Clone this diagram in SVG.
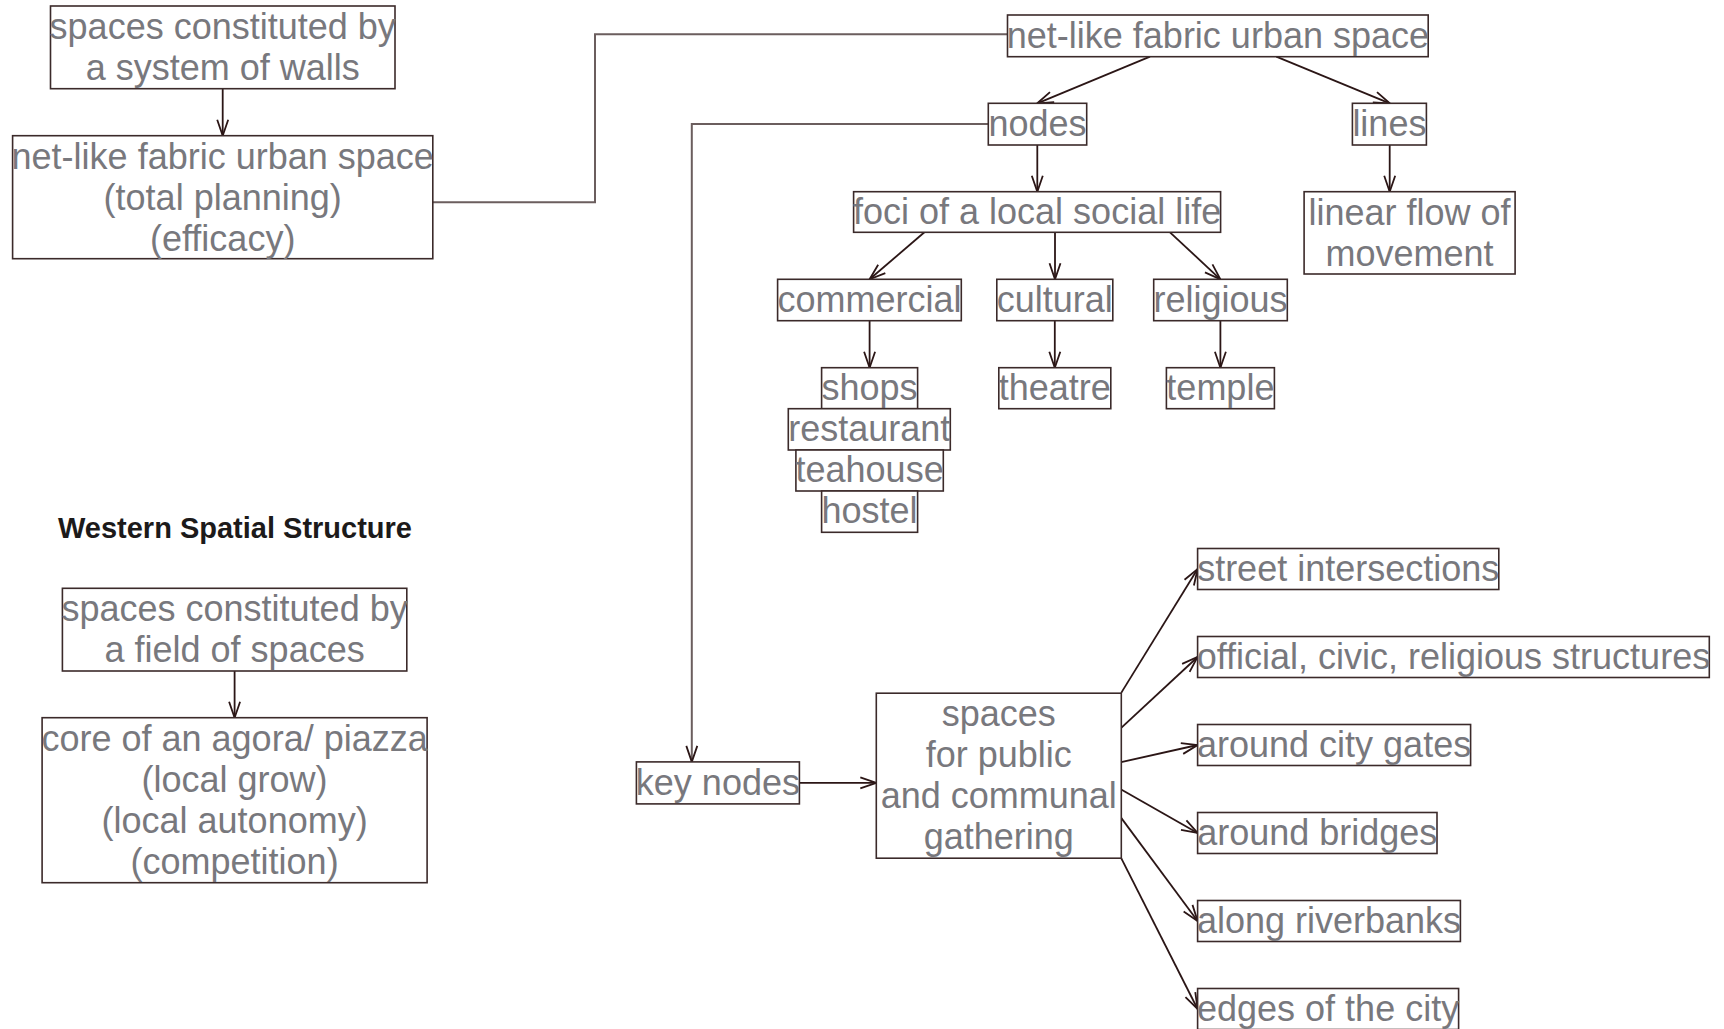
<svg xmlns="http://www.w3.org/2000/svg" width="1724" height="1029" viewBox="0 0 1724 1029">
<style>
.box{fill:#ffffff;stroke:#3b2a2a;stroke-width:1.6}
.t{font-family:"Liberation Sans",Arial,Helvetica,sans-serif;font-size:36px;fill:#78787d;text-anchor:middle}
.title{font-family:"Liberation Sans",Arial,Helvetica,sans-serif;font-size:29px;font-weight:bold;fill:#1c1a1a;text-anchor:middle}
.edge{fill:none;stroke:#2b1616;stroke-width:1.8}
.link{fill:none;stroke:#6b5e5e;stroke-width:2}
</style>
<defs>
<marker id="arr" viewBox="-17 -7 19 14" refX="0" refY="0" markerWidth="19" markerHeight="14" markerUnits="userSpaceOnUse" orient="auto">
<path d="M-16,-5.5 L0,0 L-16,5.5" fill="none" stroke="#2b1616" stroke-width="1.8"/>
</marker>
</defs>
<rect width="1724" height="1029" fill="#ffffff"/>
<g id="connectors">
<path class="edge" d="M222.7,88.7 L222.7,135.7" marker-end="url(#arr)"/>
<path class="link" d="M432.8,202.3 L595,202.3 L595,34.3 L1007.5,34.3"/>
<path class="edge" d="M1150,56.7 L1037.3,103.3" marker-end="url(#arr)"/>
<path class="edge" d="M1276.3,56.7 L1389.7,103.3" marker-end="url(#arr)"/>
<path class="edge" d="M1037.3,145 L1037.3,191.7" marker-end="url(#arr)"/>
<path class="edge" d="M1389.7,145 L1389.7,191.7" marker-end="url(#arr)"/>
<path class="edge" d="M924.4,232.3 L869.6,279.3" marker-end="url(#arr)"/>
<path class="edge" d="M1055,232.3 L1055,279.3" marker-end="url(#arr)"/>
<path class="edge" d="M1170,232.3 L1220.4,279.3" marker-end="url(#arr)"/>
<path class="edge" d="M869.6,320.7 L869.6,367.7" marker-end="url(#arr)"/>
<path class="edge" d="M1054.8,320.7 L1054.8,367.7" marker-end="url(#arr)"/>
<path class="edge" d="M1220.4,320.7 L1220.4,367.7" marker-end="url(#arr)"/>
<path class="link" d="M988.3,124 L691.8,124 L691.8,761.9" marker-end="url(#arr)"/>
<path class="edge" d="M234.6,671 L234.6,717.7" marker-end="url(#arr)"/>
<path class="edge" d="M799.4,782.9 L876.3,782.9" marker-end="url(#arr)"/>
<path class="edge" d="M1121.2,692.9 L1197.6,569" marker-end="url(#arr)"/>
<path class="edge" d="M1121.2,727.9 L1197.6,657" marker-end="url(#arr)"/>
<path class="edge" d="M1121.2,762.2 L1197.6,745" marker-end="url(#arr)"/>
<path class="edge" d="M1121.2,789.5 L1197.6,833" marker-end="url(#arr)"/>
<path class="edge" d="M1121.2,817.9 L1197.6,921" marker-end="url(#arr)"/>
<path class="edge" d="M1121.2,858.2 L1197.6,1009" marker-end="url(#arr)"/>
</g>
<g id="n_walls"><rect class="box" x="50.5" y="6" width="344.5" height="82.7"/>
<text class="t" x="222.7" y="39">spaces constituted by</text><text class="t" x="222.7" y="80">a system of walls</text></g>
<g id="n_netlike_left"><rect class="box" x="12.6" y="135.7" width="420.2" height="123"/>
<text class="t" x="222.7" y="169">net-like fabric urban space</text><text class="t" x="222.7" y="210">(total planning)</text><text class="t" x="222.7" y="251">(efficacy)</text></g>
<g id="n_netlike_top"><rect class="box" x="1007.5" y="15" width="420.7" height="41.7"/>
<text class="t" x="1217.9" y="48">net-like fabric urban space</text></g>
<g id="n_nodes"><rect class="box" x="988.3" y="103.3" width="98.4" height="41.7"/>
<text class="t" x="1037.5" y="136">nodes</text></g>
<g id="n_lines"><rect class="box" x="1352.4" y="103.3" width="74" height="41.7"/>
<text class="t" x="1389.4" y="136">lines</text></g>
<g id="n_foci"><rect class="box" x="853.6" y="191.7" width="367" height="40.6"/>
<text class="t" x="1037.1" y="224">foci of a local social life</text></g>
<g id="n_linear"><rect class="box" x="1304.1" y="191.7" width="211" height="82.3"/>
<text class="t" x="1409.5" y="225">linear flow of</text><text class="t" x="1409.5" y="266">movement</text></g>
<g id="n_commercial"><rect class="box" x="777.6" y="279.3" width="183.7" height="41.4"/>
<text class="t" x="869.5" y="312">commercial</text></g>
<g id="n_cultural"><rect class="box" x="996.8" y="279.3" width="116" height="41.4"/>
<text class="t" x="1054.8" y="312">cultural</text></g>
<g id="n_religious"><rect class="box" x="1153.7" y="279.3" width="133.6" height="41.4"/>
<text class="t" x="1220.5" y="312">religious</text></g>
<g id="n_shops"><rect class="box" x="821.6" y="367.7" width="96" height="41"/>
<text class="t" x="869.6" y="400">shops</text></g>
<g id="n_restaurant"><rect class="box" x="788.3" y="408.7" width="162" height="41.3"/>
<text class="t" x="869.3" y="441">restaurant</text></g>
<g id="n_teahouse"><rect class="box" x="795.9" y="450" width="147.4" height="41"/>
<text class="t" x="869.6" y="482">teahouse</text></g>
<g id="n_hostel"><rect class="box" x="821.6" y="491" width="96" height="41.3"/>
<text class="t" x="869.6" y="523">hostel</text></g>
<g id="n_theatre"><rect class="box" x="998.8" y="367.7" width="112" height="41"/>
<text class="t" x="1054.8" y="400">theatre</text></g>
<g id="n_temple"><rect class="box" x="1166.4" y="367.7" width="108" height="41"/>
<text class="t" x="1220.4" y="400">temple</text></g>
<g id="title"><text class="title" x="235" y="538">Western Spatial Structure</text></g>
<g id="n_field"><rect class="box" x="62.4" y="588.3" width="344.4" height="82.7"/>
<text class="t" x="234.6" y="621">spaces constituted by</text><text class="t" x="234.6" y="662">a field of spaces</text></g>
<g id="n_core"><rect class="box" x="42.1" y="717.7" width="385" height="165"/>
<text class="t" x="234.6" y="751">core of an agora/ piazza</text><text class="t" x="234.6" y="792">(local grow)</text><text class="t" x="234.6" y="833">(local autonomy)</text><text class="t" x="234.6" y="874">(competition)</text></g>
<g id="n_keynodes"><rect class="box" x="636.4" y="761.9" width="163" height="42"/>
<text class="t" x="717.9" y="795">key nodes</text></g>
<g id="n_spaces"><rect class="box" x="876.3" y="693.2" width="245" height="165"/>
<text class="t" x="998.8" y="726">spaces</text><text class="t" x="998.8" y="767">for public</text><text class="t" x="998.8" y="808">and communal</text><text class="t" x="998.8" y="849">gathering</text></g>
<g id="n_street"><rect class="box" x="1197.6" y="548.5" width="301.2" height="41"/>
<text class="t" x="1348.2" y="581">street intersections</text></g>
<g id="n_official"><rect class="box" x="1197.6" y="636.5" width="511.7" height="41"/>
<text class="t" x="1453.4" y="669">official, civic, religious structures</text></g>
<g id="n_gates"><rect class="box" x="1197.6" y="724.5" width="273" height="41"/>
<text class="t" x="1334.1" y="757">around city gates</text></g>
<g id="n_bridges"><rect class="box" x="1197.6" y="812.5" width="239.4" height="41"/>
<text class="t" x="1317.3" y="845">around bridges</text></g>
<g id="n_riverbanks"><rect class="box" x="1197.6" y="900.5" width="262.8" height="41"/>
<text class="t" x="1329" y="933">along riverbanks</text></g>
<g id="n_edges"><rect class="box" x="1197.6" y="988.5" width="261" height="41"/>
<text class="t" x="1328.1" y="1021">edges of the city</text></g>
</svg>
